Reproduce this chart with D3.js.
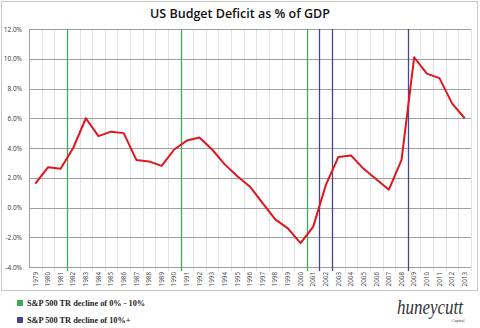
<!DOCTYPE html>
<html><head><meta charset="utf-8">
<script src="https://cdn.jsdelivr.net/npm/d3@7"></script>
<style>body{margin:0;background:#fff}svg{display:block}</style>
</head><body>
<svg id="c" width="480" height="328"></svg>
<script>
const years = d3.range(1979, 2014).map(String);
const deficit = [1.6,2.7,2.6,4.0,6.0,4.8,5.1,5.0,3.2,3.1,2.8,3.9,4.5,4.7,3.9,2.9,2.1,1.4,0.3,-0.8,-1.4,-2.4,-1.3,1.5,3.4,3.5,2.6,1.9,1.2,3.2,10.1,9.0,8.7,7.0,6.0];
const yTicks = [-4,-2,0,2,4,6,8,10,12];
// markers placed at boundary after these years
const greenAfter = ["1981","1990","2000"];
const blueAfter = ["2001","2002","2008"];
const legendItems = [
  {label:"S&P 500 TR decline of 0% - 10%", color:"#3daa5c"},
  {label:"S&P 500 TR decline of 10%+", color:"#45468c"}
];

const svg = d3.select("#c");
const L=29, R=471, T=29, B=267;
const x = d3.scaleBand().domain(years).range([L,R]);
const y = d3.scaleLinear().domain([-4,12]).range([B,T]);

// outer frame
svg.append("rect").attr("x",1.5).attr("y",1.5).attr("width",476).attr("height",289)
  .attr("fill","none").attr("stroke","#c8c8c8").attr("stroke-width",1);

// vertical gridlines
svg.append("g").selectAll("line").data(years).join("line")
  .attr("x1",d=>Math.round(x(d)+x.bandwidth())+0.5)
  .attr("x2",d=>Math.round(x(d)+x.bandwidth())+0.5)
  .attr("y1",T).attr("y2",B+4).attr("stroke","#e2e2e2");

// horizontal gridlines
svg.append("g").selectAll("line").data(yTicks).join("line")
  .attr("x1",L).attr("x2",R).attr("y1",d=>Math.round(y(d))+0.5).attr("y2",d=>Math.round(y(d))+0.5)
  .attr("stroke","#a0a0a0");

// y axis line
svg.append("line").attr("x1",L+0.5).attr("x2",L+0.5).attr("y1",T).attr("y2",B).attr("stroke","#a0a0a0");

// y axis labels
const yAxis = d3.axisLeft(y).tickValues(yTicks).tickSize(0).tickPadding(7).tickFormat(d=>d.toFixed(1)+"%");
const yg = svg.append("g").attr("transform",`translate(${L},0)`).call(yAxis);
yg.select(".domain").remove();
yg.selectAll("text").attr("font-family","Open Sans, sans-serif").attr("font-size",6.5).attr("fill","#333");

// x axis labels
const xAxis = d3.axisBottom(x).tickSize(0).tickPadding(0);
const xg = svg.append("g").attr("transform",`translate(0,${B})`).call(xAxis);
xg.select(".domain").remove();
xg.selectAll("text").attr("font-family","Open Sans, sans-serif").attr("font-size",6.3).attr("fill","#444")
  .attr("transform","rotate(-90)").attr("text-anchor","end").attr("dy","0.35em").attr("x",-5).attr("y",0);

// marker lines
const bx = yr => Math.round(x(yr)+x.bandwidth())+0.5;
svg.append("g").selectAll("line").data(greenAfter).join("line")
  .attr("x1",bx).attr("x2",bx).attr("y1",T).attr("y2",B+4).attr("stroke","#3daa5c").attr("stroke-width",1.3);
svg.append("g").selectAll("line").data(blueAfter).join("line")
  .attr("x1",bx).attr("x2",bx).attr("y1",T).attr("y2",B+4).attr("stroke","#45468c").attr("stroke-width",1.3);

// line
const line = d3.line().x((d,i)=>x(years[i])+x.bandwidth()/2).y(d=>y(d));
svg.append("path").datum(deficit).attr("d",line).attr("fill","none")
  .attr("stroke","#e0161e").attr("stroke-width",2).attr("stroke-linejoin","round");

// title
svg.append("text").attr("x",240).attr("y",18).attr("text-anchor","middle")
  .attr("font-family","Open Sans, sans-serif").attr("font-size",12.5).attr("font-weight",600).attr("fill","#111")
  .text("US Budget Deficit as % of GDP");

// legend
const lg = svg.append("g").selectAll("g").data(legendItems).join("g")
  .attr("transform",(d,i)=>`translate(17,${300+i*17})`);
lg.append("rect").attr("width",6).attr("height",6).attr("fill",d=>d.color);
lg.append("text").attr("x",10).attr("y",6).attr("font-family","Liberation Serif, serif")
  .attr("font-size",8.3).attr("font-weight","bold").attr("fill","#222").text(d=>d.label);

// logo
svg.append("text").attr("x",430).attr("y",314).attr("text-anchor","middle")
  .attr("font-family","Liberation Serif, serif").attr("font-style","italic").attr("font-size",20).attr("fill","#333")
  .attr("textLength",66).attr("lengthAdjust","spacingAndGlyphs")
  .text("huneycutt");
svg.append("text").attr("x",458).attr("y",322).attr("text-anchor","middle")
  .attr("font-family","Liberation Serif, serif").attr("font-size",4.5).attr("fill","#444").text("Capital");
</script>
</body></html>
